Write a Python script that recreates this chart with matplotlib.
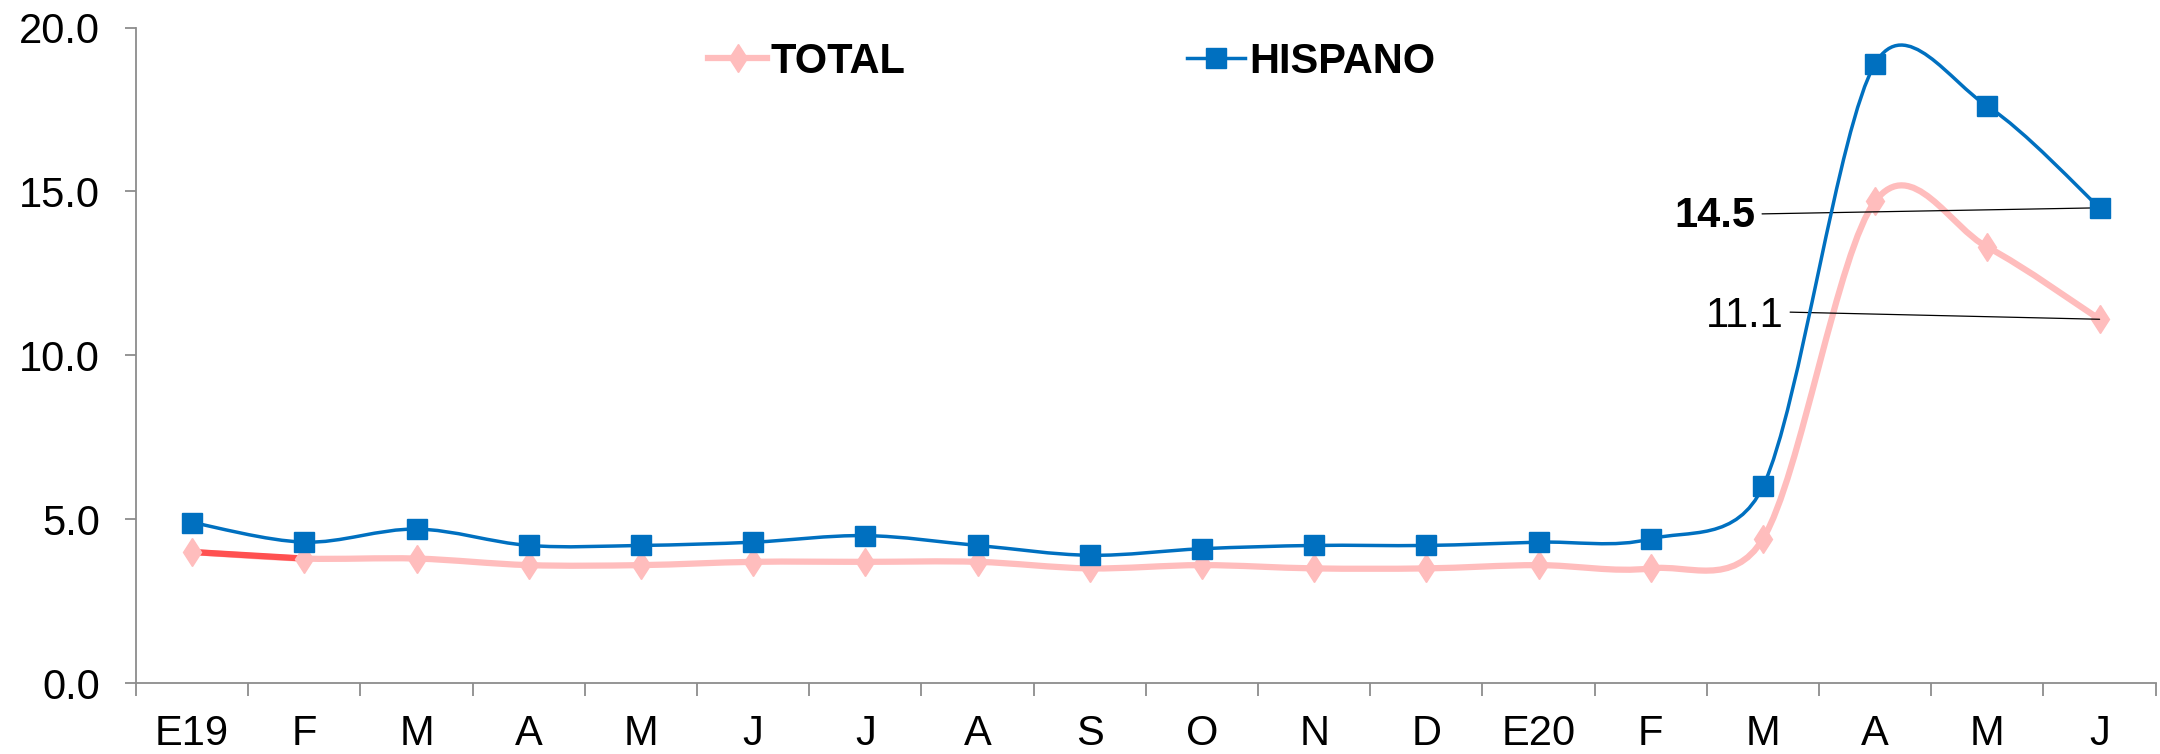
import numpy as np
import matplotlib
matplotlib.use("Agg")
import matplotlib.pyplot as plt
from matplotlib.path import Path
from matplotlib.patches import PathPatch
from matplotlib.lines import Line2D
from matplotlib.ticker import FixedLocator, FormatStrFormatter

plt.rcParams['font.family'] = ['Liberation Sans', 'DejaVu Sans']

# data
months = ["E19", "F", "M", "A", "M", "J", "J", "A", "S", "O", "N", "D",
          "E20", "F", "M", "A", "M", "J"]
total = [4.0, 3.8, 3.8, 3.6, 3.6, 3.7, 3.7, 3.7, 3.5, 3.6, 3.5, 3.5,
         3.6, 3.5, 4.4, 14.7, 13.3, 11.1]
hispano = [4.9, 4.3, 4.7, 4.2, 4.2, 4.3, 4.5, 4.2, 3.9, 4.1, 4.2, 4.2,
           4.3, 4.4, 6.0, 18.9, 17.6, 14.5]

TOTAL_COLOR = "#FFBDBD"
TOTAL_FIRST = "#FF5050"
HISP_COLOR = "#0070C0"


# Excel style smoothed line, worked out in pixel space:
# catmull-rom arms (1/6) clipped to half the segment length
def clipArm(arm, limit):
    n = np.hypot(arm[0], arm[1])
    if n > limit and n > 0:
        arm = arm * (limit / n)
    return arm


def smoothPath(ax, x, y):
    pts = ax.transData.transform(np.column_stack([x, y]).astype(float))
    n = len(pts)
    verts = [pts[0]]
    codes = [Path.MOVETO]
    for i in range(n - 1):
        p0 = pts[max(i - 1, 0)]
        p1 = pts[i]
        p2 = pts[i + 1]
        p3 = pts[min(i + 2, n - 1)]
        half = np.hypot(*(p2 - p1)) / 2.0
        c1 = p1 + clipArm((p2 - p0) / 6.0, half)
        c2 = p2 - clipArm((p3 - p1) / 6.0, half)
        verts += [c1, c2, p2]
        codes += [Path.CURVE4] * 3
    verts = ax.transData.inverted().transform(np.array(verts))
    return Path(verts, codes)


fig = plt.figure(figsize=(21.6, 7.54), dpi=100)
ax = fig.add_axes([0.063, 0.094, 0.935, 0.8695])

x = np.arange(len(months))
ax.set_xlim(-0.5, len(months) - 0.5)
ax.set_ylim(0, 20)

# TOTAL line, first segment drawn darker like the original
ax.add_patch(PathPatch(smoothPath(ax, x, total), facecolor="none",
                       edgecolor=TOTAL_COLOR, lw=4.5, capstyle="round", zorder=2))
ax.add_patch(PathPatch(smoothPath(ax, x[:2], total[:2]), facecolor="none",
                       edgecolor=TOTAL_FIRST, lw=4.5, capstyle="round", zorder=2.1))
ax.plot(x, total, linestyle="none", marker="d", markersize=14.5,
        color=TOTAL_COLOR, zorder=3)

# HISPANO line
ax.add_patch(PathPatch(smoothPath(ax, x, hispano), facecolor="none",
                       edgecolor=HISP_COLOR, lw=2.5, zorder=4))
ax.plot(x, hispano, linestyle="none", marker="s", markersize=14.5,
        color=HISP_COLOR, zorder=5)

# axes look
for s in ["top", "right"]:
    ax.spines[s].set_visible(False)
for s in ["left", "bottom"]:
    ax.spines[s].set_color("#8c8c8c")
    ax.spines[s].set_linewidth(1.3)

ax.set_xticks(x)
ax.set_xticklabels(months)
ax.xaxis.set_minor_locator(FixedLocator(np.arange(-0.5, len(months), 1.0)))
ax.tick_params(axis="x", which="major", length=0, pad=22, labelsize=30)
ax.tick_params(axis="x", which="minor", length=9.5, width=1.3,
               color="#8c8c8c", direction="out")

ax.set_yticks([0, 5, 10, 15, 20])
ax.yaxis.set_major_formatter(FormatStrFormatter("%.1f"))
ax.tick_params(axis="y", length=8, width=1.3, color="#8c8c8c",
               pad=18, labelsize=30)

# labels for last values
ax.annotate(f"{hispano[-1]:.1f}", xy=(x[-1], hispano[-1]), xytext=(13.93, 14.25),
            ha="right", va="center", fontsize=30, fontweight="bold",
            arrowprops=dict(arrowstyle="-", color="black", lw=0.9,
                            shrinkA=3, shrinkB=0, relpos=(1, 0.55)))
ax.annotate(f"{total[-1]:.1f}", xy=(x[-1], total[-1]), xytext=(14.18, 11.2),
            ha="right", va="center", fontsize=30,
            arrowprops=dict(arrowstyle="-", color="black", lw=0.9,
                            shrinkA=3, shrinkB=0, relpos=(1, 0.6)))

# legend across the top
handles = [
    Line2D([], [], color=TOTAL_COLOR, lw=4.5, marker="d", markersize=14.5),
    Line2D([], [], color=HISP_COLOR, lw=2.5, marker="s", markersize=14.5),
]
fig.legend(handles, ["TOTAL", "HISPANO"], loc="center left",
           bbox_to_anchor=(0.328, 0.918), ncol=2, frameon=False,
           prop={"size": 30, "weight": "bold"}, handlelength=1.4,
           handletextpad=0.1, columnspacing=6.75, borderpad=0,
           borderaxespad=0)

fig.savefig("out.png", dpi=100)
